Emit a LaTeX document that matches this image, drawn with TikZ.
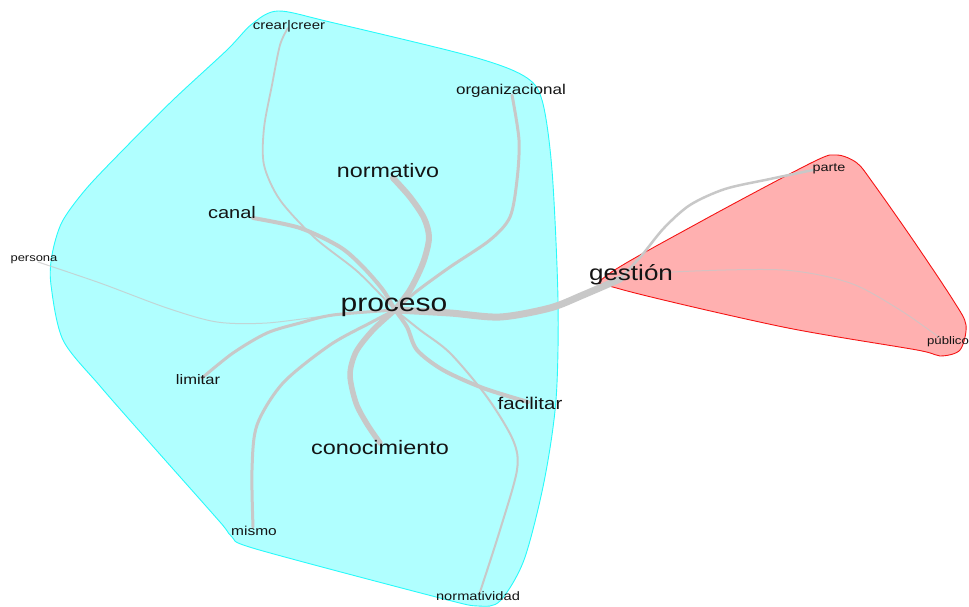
\documentclass[tikz,border=0pt]{standalone}
\usepackage{fontspec}
\setmainfont{Liberation Sans}
\definecolor{hullcyan}{RGB}{176,255,255}
\definecolor{hullcyanline}{RGB}{40,250,250}
\definecolor{hullred}{RGB}{255,176,176}
\definecolor{hullredline}{RGB}{245,20,20}
\definecolor{edgegray}{RGB}{200,200,200}
\definecolor{wordcol}{RGB}{20,20,20}
\newcommand{\wsize}[1]{\fontsize{#1}{#1}\selectfont}
\tikzset{
  word/.style={anchor=base, inner sep=0pt, xscale=1.2, text=wordcol},
  link/.style={draw=edgegray, line cap=round, line join=round},
  hull/.style={line width=0.9pt},
}
\begin{document}
\begin{tikzpicture}[x=1pt, y=-1pt]
\useasboundingbox (0,0) rectangle (969,607);

% cluster hulls
\filldraw[hull, fill=hullcyan, draw=hullcyanline]
  plot[smooth cycle, tension=0.5] coordinates {
  (278,11) (330,22) (470,56) (524,76) (542,100) (552,170) (558,300)
  (556,400) (544,482) (524,560) (500,601) (478,606) (440,598) (256,549)
  (232,537) (220,522) (150,443) (100,386) (63,340) (51,285) (52,255)
  (62,222) (86,189) (123,150) (173,100) (227,50) (252,24)};
\filldraw[hull, fill=hullred, draw=hullredline]
  plot[smooth cycle, tension=0.5] coordinates {
  (606,276) (700,222) (813,162) (837,155) (857,163) (873,183) (913,240)
  (953,300) (966,325) (960,350) (940,356) (917,350) (783,327) (620,289)};

% word positions in the network
\coordinate (vProceso) at (395,310);
\coordinate (vGestion) at (620,279);
\coordinate (vNormativo) at (393,178);
\coordinate (vCanal) at (253,218);
\coordinate (vCrear) at (288,28);
\coordinate (vOrganizacional) at (512,95);
\coordinate (vPersona) at (38,262);
\coordinate (vLimitar) at (202,378);
\coordinate (vMismo) at (253,527);
\coordinate (vConocimiento) at (380,443);
\coordinate (vFacilitar) at (528,402);
\coordinate (vNormatividad) at (480,592);
\coordinate (vParte) at (813,170);
\coordinate (vPublico) at (940,338);

% co-occurrence links
\draw[link, line width=1pt, draw opacity=0.75] plot[smooth] coordinates
  {(vProceso) (333,315) (267,323) (217,322) (167,308) (100,283) (vPersona)};
\draw[link, line width=1.8pt] plot[smooth] coordinates
  {(vProceso) (358,272) (315,238) (280,200) (264,165) (264,128) (272,85) (280,45) (vCrear)};
\draw[link, line width=2pt] plot[smooth] coordinates
  {(vProceso) (420,330) (450,353) (487,397) (513,440) (517,470) (500,530) (vNormatividad)};
\draw[link, line width=3pt] plot[smooth] coordinates
  {(vProceso) (417,291) (450,267) (490,240) (510,217) (517,180) (519,140) (vOrganizacional)};
\draw[link, line width=3pt] plot[smooth] coordinates
  {(vProceso) (333,315) (300,323) (267,333) (233,353) (vLimitar)};
\draw[link, line width=3pt] plot[smooth] coordinates
  {(vProceso) (370,323) (330,345) (283,383) (257,425) (252,470) (vMismo)};
\draw[link, line width=4pt] plot[smooth] coordinates
  {(vProceso) (383,290) (363,267) (340,247) (300,228) (vCanal)};
\draw[link, line width=4pt] plot[smooth] coordinates
  {(vProceso) (407,327) (417,350) (443,370) (483,388) (vFacilitar)};
\draw[link, line width=5.5pt] plot[smooth] coordinates
  {(vProceso) (373,330) (356,352) (350,375) (356,403) (367,424) (vConocimiento)};
\draw[link, line width=6pt] plot[smooth] coordinates
  {(vProceso) (410,290) (423,263) (429,238) (424,218) (410,197) (vNormativo)};
\draw[link, line width=7pt] plot[smooth] coordinates
  {(vProceso) (450,313) (500,317) (550,308) (583,295) (vGestion)};
\draw[link, line width=2.5pt] plot[smooth] coordinates
  {(vGestion) (642,255) (664,228) (690,205) (725,189) (770,179) (vParte)};
\draw[link, line width=1pt, draw opacity=0.75] plot[smooth] coordinates
  {(vGestion) (673,272) (783,270) (850,283) (900,310) (vPublico)};

% word labels
\node[word, font=\wsize{25}] (proceso) at (394,311.5) {proceso};
\node[word, font=\wsize{21.7}] (gestion) at (631,280.6) {gestión};
\node[word, font=\wsize{19.4}] (normativo) at (388,177) {normativo};
\node[word, font=\wsize{19.5}] (conocimiento) at (380,454) {conocimiento};
\node[word, font=\wsize{16.7}] (canal) at (232,218.3) {canal};
\node[word, font=\wsize{17}] (facilitar) at (530,409.4) {facilitar};
\node[word, font=\wsize{13.8}] (limitar) at (198,384.6) {limitar};
\node[word, font=\wsize{12.9}] (mismo) at (254,535.4) {mismo};
\node[word, font=\wsize{14.2}] (organizacional) at (511,95) {organizacional};
\node[word, font=\wsize{12.5}] (crear) at (289,29.3) {crear|creer};
\node[word, font=\wsize{12.2}] (normatividad) at (478,600.2) {normatividad};
\node[word, font=\wsize{12}] (parte) at (829,171.1) {parte};
\node[word, font=\wsize{10.8}] (persona) at (34,261.8) {persona};
\node[word, font=\wsize{11}] (publico) at (948,344.9) {público};
\end{tikzpicture}
\end{document}
